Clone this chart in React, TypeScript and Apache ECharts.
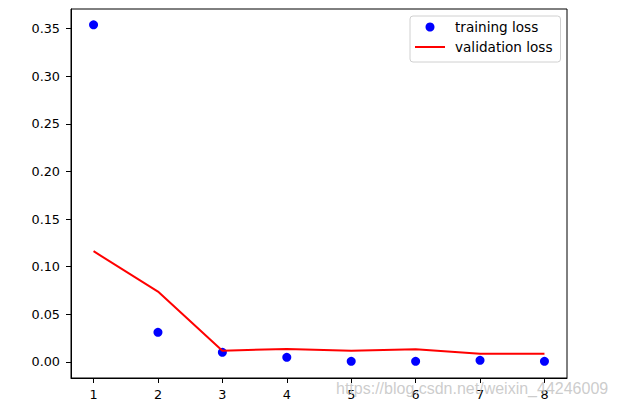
import React, { useEffect, useRef } from "react";
import * as echarts from "echarts";

const epochs = [1, 2, 3, 4, 5, 6, 7, 8];
const trainingLoss = [0.354, 0.0312, 0.0102, 0.0049, 0.0007, 0.0007, 0.0018, 0.0007];
const validationLoss = [0.1163, 0.0739, 0.0119, 0.0137, 0.0119, 0.0133, 0.0087, 0.0087];
const yTicks = [0, 0.05, 0.1, 0.15, 0.2, 0.25, 0.3, 0.35];
const watermark = "https://blog.csdn.net/weixin_44246009";

const FONT = "DejaVu Sans";

export default function App() {
  const ref = useRef<HTMLDivElement>(null);
  useEffect(() => {
    if (!ref.current) return;
    const chart = echarts.init(ref.current, undefined, { renderer: "svg" });
    chart.setOption({
      animation: false,
      backgroundColor: "#ffffff",
      grid: {
        left: 71,
        top: 9,
        right: 50,
        bottom: 29,
        show: true,
        borderColor: "#000",
        borderWidth: 1,
        backgroundColor: "transparent",
      },
      xAxis: {
        type: "value",
        min: 0.65,
        max: 8.35,
        axisLine: { show: true, onZero: false, lineStyle: { color: "#000", width: 1 } },
        axisTick: { show: true, inside: false, length: 5, customValues: epochs, lineStyle: { color: "#000" } },
        axisLabel: {
          customValues: epochs,
          margin: 10,
          color: "#000",
          fontFamily: FONT,
          fontSize: 12.8,
        },
        splitLine: { show: false },
      },
      yAxis: {
        type: "value",
        min: -0.0168,
        max: 0.3706,
        axisLine: { show: true, onZero: false, lineStyle: { color: "#000", width: 1 } },
        axisTick: { show: true, inside: false, length: 5, customValues: yTicks, lineStyle: { color: "#000" } },
        axisLabel: {
          customValues: yTicks,
          margin: 11,
          color: "#000",
          fontFamily: FONT,
          fontSize: 12.8,
          formatter: (v: number) => v.toFixed(2),
        },
        splitLine: { show: false },
      },
      legend: {
        orient: "vertical",
        left: 410,
        top: 16,
        padding: [4, 8, 8, 5],
        itemGap: 6,
        itemWidth: 30,
        itemHeight: 9,
        symbolKeepAspect: true,
        borderColor: "#d0d0d0",
        borderWidth: 1,
        borderRadius: 3,
        backgroundColor: "#fff",
        textStyle: { fontFamily: FONT, fontSize: 13.6, color: "#000", padding: [0, 0, 0, 5] },
        data: [
          { name: "training loss", icon: "circle" },
          { name: "validation loss", icon: "path://M0,0L30,0L30,2L0,2Z" },
        ],
      },
      graphic: [
        {
          type: "text",
          left: 336,
          top: 380,
          z: 100,
          style: {
            text: watermark,
            fontFamily: "Liberation Sans",
            fontSize: 16,
            fill: "rgba(195,195,195,0.85)",
          },
        },
      ],
      series: [
        {
          name: "training loss",
          type: "scatter",
          data: epochs.map((e, i) => [e, trainingLoss[i]]),
          symbol: "circle",
          symbolSize: 9,
          itemStyle: { color: "#0000ff", opacity: 1 },
        },
        {
          name: "validation loss",
          type: "line",
          data: epochs.map((e, i) => [e, validationLoss[i]]),
          symbol: "none",
          lineStyle: { color: "#ff0000", width: 2 },
          itemStyle: { color: "#ff0000" },
        },
      ],
    });
    return () => chart.dispose();
  }, []);
  return (
    <div
      ref={ref}
      style={{ position: "fixed", left: 0, top: 0, width: 617, height: 407 }}
    />
  );
}
